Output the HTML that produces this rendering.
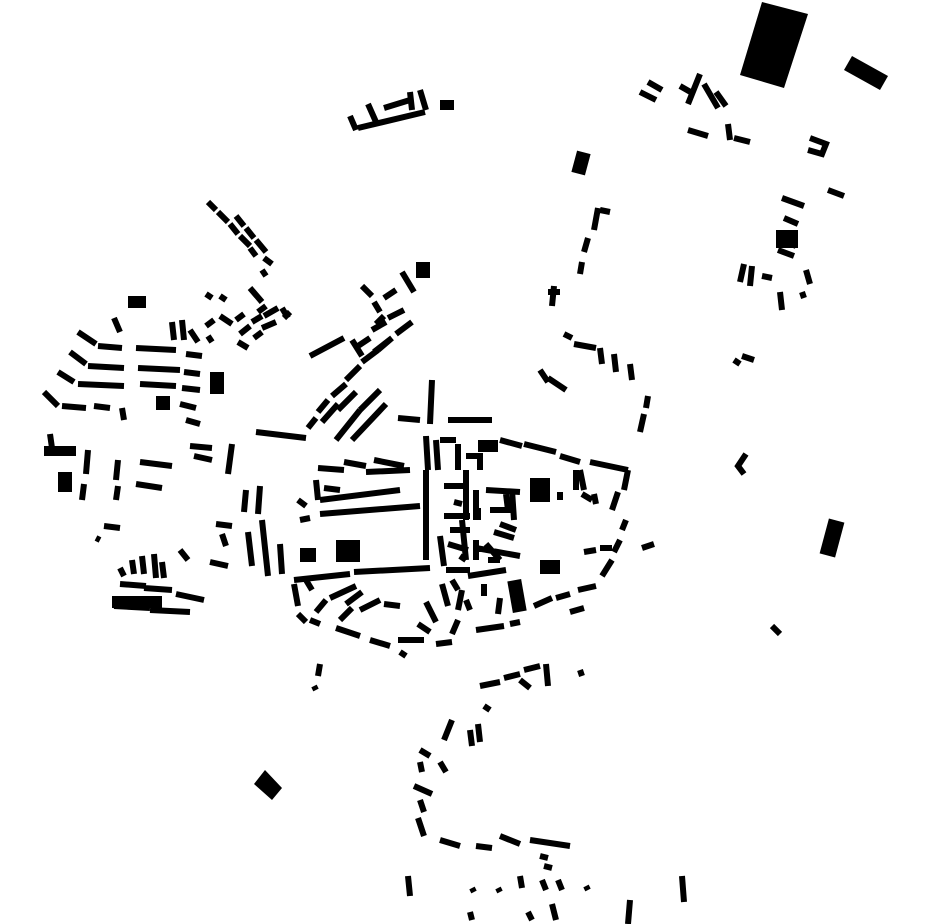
<!DOCTYPE html>
<html><head><meta charset="utf-8"><style>html,body{margin:0;padding:0;background:#fff}svg{display:block}</style></head>
<body>
<svg width="930" height="924" viewBox="0 0 930 924" xmlns="http://www.w3.org/2000/svg">
<g fill="#000">
<polygon points="762,2 808,14 784,88 740,75"/>
<polygon points="852,56 888,76 880,90 844,70"/>
<rect x="540" y="560" width="20" height="14"/>
<rect x="510" y="580" width="14" height="32" transform="rotate(-10 517 596)"/>
<rect x="478" y="440" width="20" height="12"/>
<rect x="530" y="478" width="20" height="24"/>
<rect x="58" y="472" width="14" height="20"/>
<rect x="44" y="446" width="32" height="10"/>
<rect x="210" y="372" width="14" height="22"/>
<polygon points="265,770 282,788 272,800 254,784"/>
<rect x="128" y="296" width="18" height="12"/>
<rect x="416" y="262" width="14" height="16"/>
<rect x="776" y="230" width="22" height="18"/>
<rect x="824" y="520" width="16" height="36" transform="rotate(15 832 538)"/>
<rect x="574" y="152" width="14" height="22" transform="rotate(15 581 163)"/>
<rect x="440" y="100" width="14" height="10"/>
<rect x="156" y="396" width="14" height="14"/>
<rect x="112" y="596" width="50" height="12"/>
<rect x="300" y="548" width="16" height="14"/>
<rect x="336" y="540" width="24" height="22"/>
</g>
<g stroke="#000" stroke-width="6" fill="none" stroke-linecap="butt">
<!-- north cluster -->
<path d="M350 116 L356 130 M358 128 L425 112 M368 104 L376 122 M384 108 L410 100 M410 92 L412 110 M420 90 L426 110"/>
<path d="M640 92 L656 100 M648 82 L662 90 M680 86 L694 94 M700 74 L688 104 M704 84 L718 108 M716 92 L726 106 M688 130 L708 136 M728 124 L730 140 M734 138 L750 142 M810 138 L826 144 L822 154 L808 150"/>
<path d="M782 198 L804 206 M784 218 L798 224 M780 240 L796 246 M778 250 L794 256 M806 270 L810 284 M744 264 L740 282 M752 266 L750 286 M762 276 L772 278 M780 292 L782 310 M802 292 L804 298 M742 356 L754 360 M734 360 L740 364 M828 190 L844 196 M746 454 L738 466 L744 474"/>
<path d="M598 208 L594 230 M600 210 L610 212 M588 238 L584 252 M582 262 L580 274 M554 286 L552 306 M548 292 L560 292 M564 334 L572 338 M574 344 L596 348 M600 348 L602 364 M614 354 L616 372 M630 364 L632 380 M540 370 L548 382 M548 378 L566 390 M648 396 L646 408 M644 414 L640 432"/>
<!-- NW radial streets -->
<path d="M208 202 L216 210 M218 212 L228 222 M230 224 L238 234 M240 236 L250 246 M250 248 L256 256 M236 216 L244 226 M246 228 L254 238 M256 240 L266 252 M264 258 L272 264 M262 270 L266 276"/>
<path d="M250 288 L262 302 M266 306 L258 312 M244 314 L236 320 M232 324 L220 316 M214 320 L206 326 M240 334 L250 326 M252 322 L262 316 M264 316 L278 308 M282 308 L288 318 M238 342 L248 348 M254 338 L262 332 M262 328 L276 322 M284 318 L290 312 M206 294 L212 298 M220 296 L226 300 M114 318 L120 332 M172 322 L174 340 M182 320 L184 340 M190 330 L198 342 M208 336 L212 342"/>
<path d="M78 332 L96 344 M98 346 L122 348 M136 348 L176 350 M186 354 L202 356 M70 352 L86 364 M88 366 L124 368 M138 368 L180 370 M184 372 L200 374 M58 372 L74 382 M78 384 L124 386 M140 384 L176 386 M182 388 L200 390 M44 392 L58 406 M62 406 L86 408 M94 406 L110 408 M122 408 L124 420 M180 404 L196 408 M186 420 L200 424 M50 434 L52 448 M88 450 L86 474 M84 484 L82 500 M118 460 L116 480 M118 486 L116 500 M140 462 L172 466 M136 484 L162 488 M190 446 L212 448 M194 456 L212 460 M232 444 L228 474 M246 490 L244 512 M260 486 L258 514"/>
<!-- diagonal streets center -->
<path d="M310 356 L344 338 M352 340 L362 356 M358 346 L370 338 M372 330 L386 322 M388 318 L404 310 M374 352 L392 338 M396 334 L412 322 M362 286 L372 296 M402 272 L414 292 M374 302 L380 312 M384 298 L396 290 M376 324 L384 316 M318 412 L328 400 M332 396 L346 384 M346 380 L360 366 M362 362 L378 350 M378 350 L392 338 M322 422 L338 404 M338 410 L356 392 M336 440 L360 410 M360 410 L380 390 M352 440 L386 404 M308 428 L316 418 M256 432 L306 438 M432 380 L430 424 M398 418 L420 420 M448 420 L492 420"/>
<!-- center grid -->
<path d="M318 468 L344 470 M324 488 L340 490 M344 462 L366 466 M374 460 L404 466 M366 472 L410 470 M316 480 L318 500 M298 500 L306 506 M320 500 L400 490 M300 520 L310 518 M320 514 L420 506 M426 436 L428 470 M426 470 L426 560 M436 440 L438 470 M440 440 L456 440 M458 444 L458 470 M466 456 L480 456 L480 470 M466 470 L466 520 M462 520 L466 560 M476 490 L476 520 M500 440 L522 446 M476 540 L476 560 M486 544 L500 560 M488 560 L500 560 M524 444 L556 452 M560 456 L580 462 M590 462 L628 470 M628 470 L624 490 M618 492 L612 510 M486 490 L520 492 M506 494 L508 510 M490 510 L512 510 M512 490 L514 520 M494 532 L514 538 M476 548 L520 556 M500 524 L516 530 M560 492 L560 500 M478 508 L478 520 M444 486 L466 486 M454 502 L462 504 M444 516 L470 516 M450 530 L470 530 M440 536 L444 566 M448 544 L468 550 M460 556 L466 560 M576 470 L576 490 M580 470 L584 490 M582 494 L592 500 M594 494 L596 504"/>
<path d="M280 544 L282 574 M262 520 L268 576 M248 532 L252 566 M216 524 L232 526 M222 534 L226 546 M210 562 L228 566 M180 550 L188 560 M132 560 L134 574 M142 556 L144 574 M154 554 L156 578 M162 562 L164 578 M120 584 L146 586 M144 588 L172 590 M176 594 L204 600 M114 606 L150 608 M150 610 L190 612 M120 568 L124 576 M104 526 L120 528 M96 538 L100 540"/>
<!-- south ring -->
<path d="M294 580 L350 574 M354 572 L430 568 M446 570 L470 570 M294 584 L298 606 M306 580 L312 590 M298 614 L306 622 M316 612 L326 600 M330 598 L356 586 M340 620 L352 608 M346 604 L362 592 M360 610 L380 600 M384 604 L400 606 M310 620 L320 624 M336 628 L360 636 M370 640 L390 646 M398 640 L424 640 M436 644 L452 642 M452 634 L458 620 M458 610 L462 590 M458 590 L452 580 M442 584 L448 606 M426 602 L436 622 M418 624 L430 632 M468 576 L506 570 M466 600 L470 610 M484 584 L484 596 M500 598 L498 614 M534 606 L552 598 M556 598 L570 594 M578 590 L596 586 M602 576 L612 560 M614 552 L620 540 M622 530 L626 520 M584 552 L596 550 M600 548 L612 548 M642 548 L654 544 M570 612 L584 608 M476 630 L504 626 M510 624 L520 622 M400 652 L406 656"/>
<!-- south -->
<path d="M320 664 L318 676 M314 686 L316 690 M480 686 L500 682 M504 678 L520 674 M524 670 L540 666 M546 664 L548 686 M520 680 L530 688 M580 670 L582 676 M484 706 L490 710 M452 720 L444 740 M470 730 L472 746 M478 724 L480 742 M420 750 L430 756 M420 762 L422 772 M440 762 L446 772 M414 786 L432 794 M420 800 L424 812 M418 818 L424 836 M440 840 L460 846 M476 846 L492 848 M500 836 L520 844 M530 840 L570 846 M540 856 L548 858 M544 866 L552 868 M542 880 L546 890 M558 880 L562 890 M520 876 L522 888 M498 888 L500 892 M472 888 L474 892 M470 912 L472 920 M528 912 L532 920 M552 904 L556 920 M586 886 L588 890 M630 900 L628 924 M682 876 L684 902 M408 876 L410 896 M772 626 L780 634"/>
</g>
</svg>
</body></html>
